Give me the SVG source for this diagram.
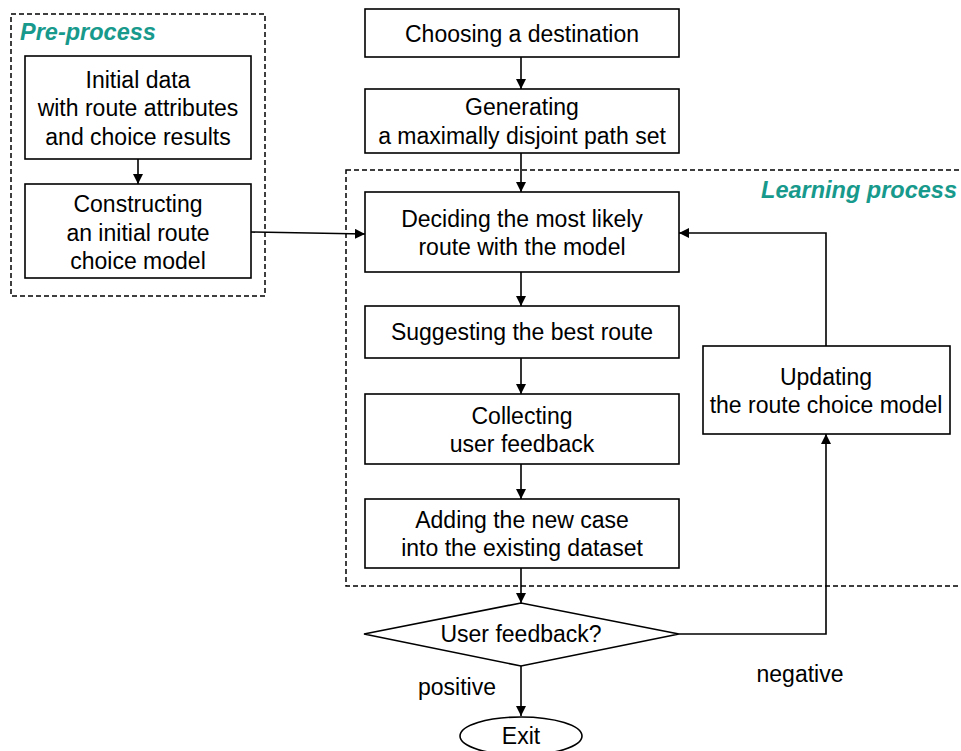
<svg xmlns="http://www.w3.org/2000/svg" width="961" height="751" viewBox="0 0 961 751">
<defs>
<marker id="ah" viewBox="0 0 10 10" refX="10" refY="5" markerWidth="10" markerHeight="10" markerUnits="userSpaceOnUse" orient="auto">
<path d="M0,0 L10,5 L0,10 z" fill="#000"/>
</marker>
<style>
.box{fill:#fff;stroke:#000;stroke-width:1.6}
.dash{fill:none;stroke:#000;stroke-width:1.5;stroke-dasharray:5 3}
.t{font-family:"Liberation Sans",Arial,sans-serif;font-size:23px;fill:#000;text-anchor:middle}
.lab{font-family:"Liberation Sans",Arial,sans-serif;font-size:23px;fill:#000;text-anchor:middle}
.grp{font-family:"Liberation Sans",Arial,sans-serif;font-size:23.5px;font-weight:bold;font-style:italic;fill:#17998c}
.c{fill:none;stroke:#000;stroke-width:1.6;marker-end:url(#ah)}
</style>
</defs>
<rect width="961" height="751" fill="#fff"/>

<g id="preprocess-group">
<rect class="dash" x="11" y="14" width="254" height="282"/>
<text class="grp" x="20" y="40">Pre-process</text>
</g>
<g id="learning-group">
<rect class="dash" x="346" y="170" width="630" height="416"/>
<text class="grp" x="957" y="198" text-anchor="end">Learning process</text>
</g>

<g id="connectors">
<line class="c" x1="138" y1="159" x2="138" y2="184"/>
<line class="c" x1="251" y1="232" x2="365" y2="234"/>
<line class="c" x1="521" y1="57" x2="521" y2="89"/>
<line class="c" x1="521" y1="153" x2="521" y2="192"/>
<line class="c" x1="521" y1="272" x2="521" y2="306"/>
<line class="c" x1="521" y1="358" x2="521" y2="394"/>
<line class="c" x1="521" y1="464" x2="521" y2="499"/>
<line class="c" x1="521" y1="568" x2="521" y2="603"/>
<polyline class="c" points="679,634 826,634 826,434"/>
<polyline class="c" points="826,346 826,233 679,233"/>
<line class="c" x1="521" y1="666" x2="521" y2="716"/>
<text class="lab" x="457" y="695">positive</text>
<text class="lab" x="800" y="682">negative</text>
</g>

<g id="initial-data">
<rect class="box" x="25" y="56" width="226" height="103"/>
<text class="t" x="138" y="88">Initial data</text>
<text class="t" x="138" y="116">with route attributes</text>
<text class="t" x="138" y="145">and choice results</text>
</g>
<g id="constructing">
<rect class="box" x="25" y="184" width="226" height="94"/>
<text class="t" x="138" y="212">Constructing</text>
<text class="t" x="138" y="241">an initial route</text>
<text class="t" x="138" y="269">choice model</text>
</g>
<g id="choosing">
<rect class="box" x="365" y="9" width="314" height="48"/>
<text class="t" x="522" y="42">Choosing a destination</text>
</g>
<g id="generating">
<rect class="box" x="365" y="89" width="314" height="64"/>
<text class="t" x="522" y="115">Generating</text>
<text class="t" x="522" y="144">a maximally disjoint path set</text>
</g>
<g id="deciding">
<rect class="box" x="365" y="192" width="314" height="80"/>
<text class="t" x="522" y="227">Deciding the most likely</text>
<text class="t" x="522" y="255">route with the model</text>
</g>
<g id="suggesting">
<rect class="box" x="365" y="306" width="314" height="52"/>
<text class="t" x="522" y="340">Suggesting the best route</text>
</g>
<g id="collecting">
<rect class="box" x="365" y="394" width="314" height="70"/>
<text class="t" x="522" y="424">Collecting</text>
<text class="t" x="522" y="452">user feedback</text>
</g>
<g id="adding">
<rect class="box" x="365" y="499" width="314" height="69"/>
<text class="t" x="522" y="528">Adding the new case</text>
<text class="t" x="522" y="556">into the existing dataset</text>
</g>
<g id="updating">
<rect class="box" x="703" y="346" width="247" height="88"/>
<text class="t" x="826" y="385">Updating</text>
<text class="t" x="826" y="413">the route choice model</text>
</g>
<g id="decision">
<polygon class="box" points="364,634 521,603 679,634 521,666"/>
<text class="t" x="521" y="642">User feedback?</text>
</g>
<g id="exit">
<ellipse class="box" cx="521" cy="736" rx="61" ry="19"/>
<text class="t" x="521" y="744">Exit</text>
</g>
</svg>
